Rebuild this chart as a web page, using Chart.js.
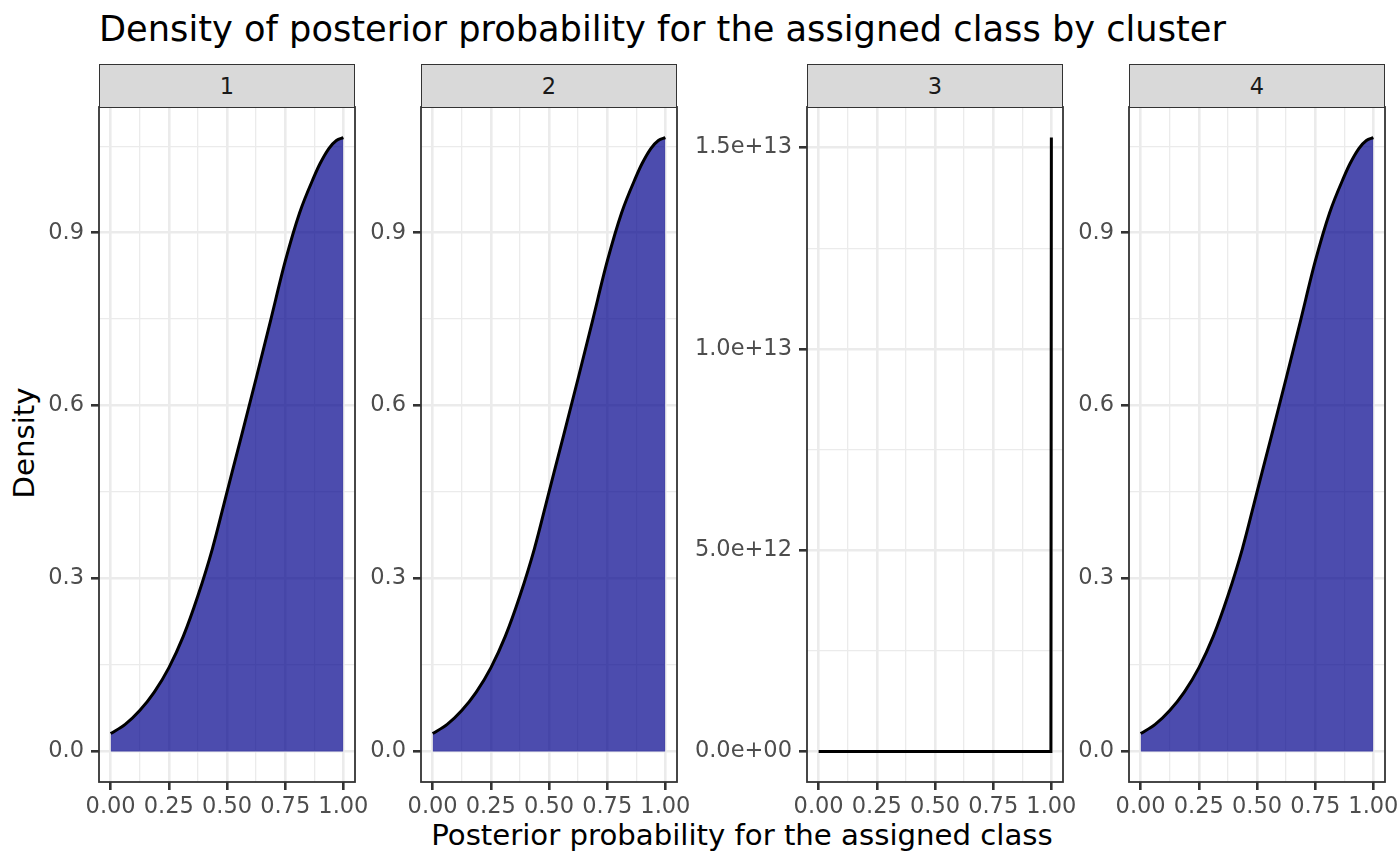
<!DOCTYPE html>
<html>
<head>
<meta charset="utf-8">
<script src="https://cdn.jsdelivr.net/npm/chart.js@4.4.1/dist/chart.umd.min.js"></script>
<style>
  body { margin: 0; background: #fff; }
  #wrap { position: relative; width: 1400px; height: 866px; overflow: hidden; font-family: "DejaVu Sans", sans-serif; }
  canvas { position: absolute; }
  .strip { position: absolute; top: 64px; height: 44px; width: 256px; box-sizing: border-box;
           background: #d9d9d9; border: 1.8px solid #333; color: #1a1a1a; font-size: 22.5px;
           display: flex; align-items: center; justify-content: center; }
  .title { position: absolute; left: 99px; top: 11px; font-size: 35.2px; line-height: 1; color: #000; white-space: nowrap; }
  .xtitle { position: absolute; left: 0; width: 1484px; top: 821px; font-size: 29.2px; line-height: 1; text-align: center; color: #000; }
  .ytitle { position: absolute; left: 25px; top: 443px; font-size: 29.2px; line-height: 1; color: #000;
            transform: translate(-50%, -50%) rotate(-90deg); white-space: nowrap; }
</style>
</head>
<body>
<div id="wrap">
  <div class="title">Density of posterior probability for the assigned class by cluster</div>
  <div class="ytitle">Density</div>
  <div class="xtitle">Posterior probability for the assigned class</div>
</div>
<script>
// values
const clusters = ['1', '2', '3', '4'];
const xValues = [0, 0.0625, 0.125, 0.1875, 0.25, 0.3125, 0.375, 0.4375, 0.5, 0.5625,
                 0.625, 0.6875, 0.75, 0.8125, 0.875, 0.9, 0.9375, 0.97, 1];
const densityCluster1 = [0.031, 0.047, 0.071, 0.103, 0.145, 0.200, 0.270, 0.352, 0.450, 0.548,
                         0.647, 0.748, 0.850, 0.935, 0.998, 1.020, 1.046, 1.060, 1.065];
const densityCluster2 = [0.031, 0.047, 0.071, 0.103, 0.145, 0.200, 0.270, 0.352, 0.450, 0.548,
                         0.647, 0.748, 0.850, 0.935, 0.998, 1.020, 1.046, 1.060, 1.065];
const densityCluster4 = [0.031, 0.047, 0.071, 0.103, 0.145, 0.200, 0.270, 0.352, 0.450, 0.548,
                         0.647, 0.748, 0.850, 0.935, 0.998, 1.020, 1.046, 1.060, 1.065];
const xCluster3 = [0, 0.998, 1];
const densityCluster3 = [0, 0, 1.525e13];

const xTicks = [0, 0.125, 0.25, 0.375, 0.5, 0.625, 0.75, 0.875, 1];
const xMajor = [0, 0.25, 0.5, 0.75, 1];
const yTicksSmall = [0, 0.15, 0.3, 0.45, 0.6, 0.75, 0.9, 1.05];
const yMajorSmall = [0, 0.3, 0.6, 0.9];
const yTicksLarge = [0, 2.5e12, 5e12, 7.5e12, 1e13, 1.25e13, 1.5e13];
const yMajorLarge = [0, 5e12, 1e13, 1.5e13];

const panelLefts = [99, 421, 807, 1129];
const PANEL_W = 256, PANEL_TOP = 107, PANEL_BOTTOM = 782;
const PAD_TOP = 30, PAD_RIGHT = 30, X_AXIS_H = 50;

function sci(v) {
  if (v === 0) return '0.0e+00';
  const e = Math.floor(Math.log10(Math.abs(v)));
  const m = v / Math.pow(10, e);
  return m.toFixed(1) + 'e' + (e < 0 ? '-' : '+') + String(Math.abs(e)).padStart(2, '0');
}

const borderPlugin = {
  id: 'panelBorder',
  afterDraw(chart) {
    const a = chart.chartArea, c = chart.ctx;
    c.save();
    c.strokeStyle = '#333';
    c.lineWidth = 1.8;
    c.strokeRect(a.left, a.top, a.right - a.left, a.bottom - a.top);
    c.restore();
  }
};

function makePanel(i, xs, ys, opts) {
  const wrap = document.getElementById('wrap');
  const yW = opts.yW;
  const canvas = document.createElement('canvas');
  const top = PANEL_TOP - PAD_TOP;
  canvas.width = yW + PANEL_W + PAD_RIGHT;
  canvas.height = PANEL_BOTTOM - top + X_AXIS_H;
  canvas.style.left = (panelLefts[i] - yW) + 'px';
  canvas.style.top = top + 'px';
  wrap.appendChild(canvas);

  const strip = document.createElement('div');
  strip.className = 'strip';
  strip.style.left = panelLefts[i] + 'px';
  strip.textContent = clusters[i];
  wrap.appendChild(strip);

  const isMaj = (list, v) => list.includes(v);
  const tickFont = { family: 'DejaVu Sans', size: 22.5 };

  new Chart(canvas, {
    type: 'line',
    data: {
      datasets: [{
        data: xs.map((x, k) => ({ x: x, y: ys[k] })),
        borderColor: '#000',
        borderWidth: 3,
        backgroundColor: 'rgba(0, 0, 139, 0.7)',
        fill: 'origin',
        pointRadius: 0,
        tension: 0,
        cubicInterpolationMode: opts.smooth ? 'monotone' : 'default'
      }]
    },
    options: {
      responsive: false,
      animation: false,
      devicePixelRatio: 1,
      layout: { padding: { top: PAD_TOP, right: PAD_RIGHT, left: 0, bottom: 0 } },
      plugins: { legend: { display: false }, tooltip: { enabled: false } },
      scales: {
        x: {
          type: 'linear',
          min: -0.05,
          max: 1.05,
          afterBuildTicks: s => { s.ticks = xTicks.map(v => ({ value: v })); },
          afterFit: s => { s.height = X_AXIS_H; },
          border: { display: false },
          grid: {
            color: '#ebebeb',
            lineWidth: c => isMaj(xMajor, c.tick.value) ? 2.6 : 1.3,
            tickColor: c => isMaj(xMajor, c.tick.value) ? '#333' : 'rgba(0,0,0,0)',
            tickLength: 8,
            tickWidth: 2.6
          },
          ticks: {
            autoSkip: false, maxRotation: 0, minRotation: 0,
            color: '#4d4d4d', font: tickFont, padding: 4,
            callback: v => isMaj(xMajor, v) ? v.toFixed(2) : ''
          }
        },
        y: {
          type: 'linear',
          min: opts.yMin,
          max: opts.yMax,
          afterBuildTicks: s => { s.ticks = opts.yTicks.map(v => ({ value: v })); },
          afterFit: s => { s.width = yW; },
          border: { display: false },
          grid: {
            color: '#ebebeb',
            lineWidth: c => isMaj(opts.yMajor, c.tick.value) ? 2.6 : 1.3,
            tickColor: c => isMaj(opts.yMajor, c.tick.value) ? '#333' : 'rgba(0,0,0,0)',
            tickLength: 8,
            tickWidth: 2.6
          },
          ticks: {
            autoSkip: false,
            color: '#4d4d4d', font: tickFont, padding: 7,
            callback: v => isMaj(opts.yMajor, v) ? opts.fmt(v) : ''
          }
        }
      }
    },
    plugins: [borderPlugin]
  });
}

const smallOpts = { yW: 95, smooth: true, yMin: -0.053, yMax: 1.118,
                    yTicks: yTicksSmall, yMajor: yMajorSmall, fmt: v => v.toFixed(1) };
makePanel(0, xValues, densityCluster1, smallOpts);
makePanel(1, xValues, densityCluster2, smallOpts);
makePanel(2, xCluster3, densityCluster3, { yW: 130, smooth: false, yMin: -7.6e11, yMax: 1.601e13,
          yTicks: yTicksLarge, yMajor: yMajorLarge, fmt: sci });
makePanel(3, xValues, densityCluster4, smallOpts);
</script>
</body>
</html>
